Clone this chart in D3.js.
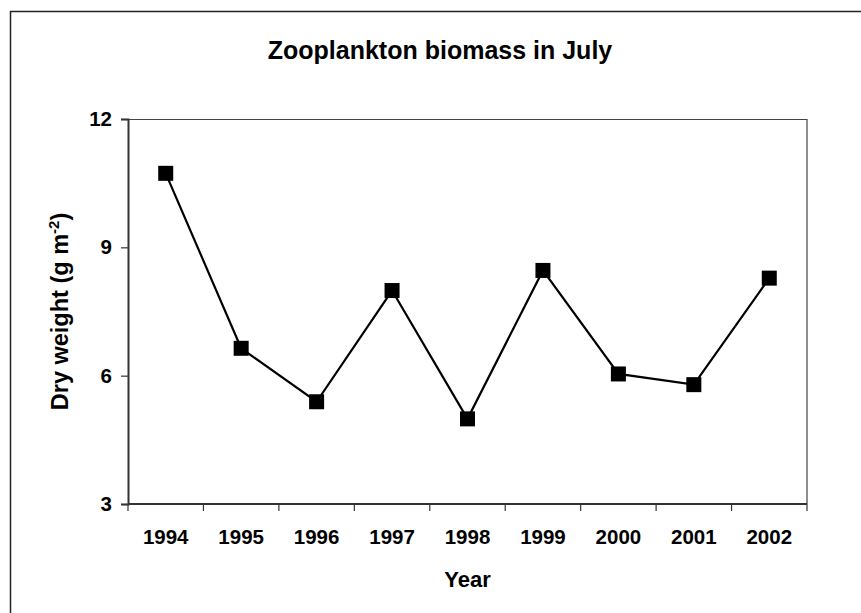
<!DOCTYPE html>
<html>
<head>
<meta charset="utf-8">
<script src="https://cdn.jsdelivr.net/npm/d3@7"></script>
<style>
  body { margin: 0; background: #fff; }
  text { font-family: Arial, "Liberation Sans", sans-serif; font-weight: bold; fill: #000; }
</style>
</head>
<body>
<div id="chart"></div>
<script>
// data
var years = ["1994", "1995", "1996", "1997", "1998", "1999", "2000", "2001", "2002"];
var dryWeight = [10.73, 6.64, 5.39, 7.99, 4.99, 8.46, 6.04, 5.79, 8.28];
var yTicks = [3, 6, 9, 12];

var W = 861, H = 613;
var margin = {top: 119, right: 54, bottom: 109, left: 128}
  , width = W - margin.left - margin.right
  , height = H - margin.top - margin.bottom;

var svg = d3.select("#chart").append("svg")
    .attr("width", W)
    .attr("height", H);

// outer chart border (right and bottom fall outside the window)
svg.append("rect")
    .attr("x", 10.5).attr("y", 11.5)
    .attr("width", 880).attr("height", 640)
    .attr("fill", "none")
    .attr("stroke", "#222")
    .attr("stroke-width", 1.5);

var g = svg.append("g")
    .attr("transform", "translate(" + margin.left + "," + margin.top + ")");

var x = d3.scaleBand()
    .domain(years)
    .range([0, width]);

var y = d3.scaleLinear()
    .domain([3, 12])
    .range([height, 0]);

// plot frame top and right
g.append("path")
    .attr("d", "M0,0.5H" + width + "V" + height)
    .attr("fill", "none")
    .attr("stroke", "#444")
    .attr("stroke-width", 1.2);

// x axis, ticks between categories
var xAxis = g.append("g")
    .attr("transform", "translate(0," + height + ")");
xAxis.append("path")
    .attr("d", "M0,0H" + width)
    .attr("stroke", "#333")
    .attr("stroke-width", 2);
xAxis.selectAll(".tk")
    .data(years.concat(["end"]))
    .enter().append("line")
    .attr("x1", function(d, i) { return i * x.bandwidth(); })
    .attr("x2", function(d, i) { return i * x.bandwidth(); })
    .attr("y1", 0).attr("y2", 7)
    .attr("stroke", "#333")
    .attr("stroke-width", 1.2);
xAxis.selectAll(".lbl")
    .data(years)
    .enter().append("text")
    .attr("x", function(d) { return x(d) + x.bandwidth() / 2; })
    .attr("y", 40)
    .attr("text-anchor", "middle")
    .style("font-size", "20.5px")
    .text(function(d) { return d; });

// y axis
var yAxis = g.append("g")
    .call(d3.axisLeft(y).tickValues(yTicks).tickSize(7).tickPadding(9));
yAxis.select(".domain").attr("stroke", "#333").attr("stroke-width", 2);
yAxis.selectAll(".tick line").attr("stroke", "#333").attr("stroke-width", 1.2);
yAxis.selectAll(".tick text")
    .style("font-size", "20.5px")
    .attr("font-family", null);

// line + markers
var line = d3.line()
    .x(function(d, i) { return x(years[i]) + x.bandwidth() / 2; })
    .y(function(d) { return y(d); });

g.append("path")
    .datum(dryWeight)
    .attr("d", line)
    .attr("fill", "none")
    .attr("stroke", "#000")
    .attr("stroke-width", 2.2);

var sz = 15;
g.selectAll(".dot")
    .data(dryWeight)
    .enter().append("rect")
    .attr("x", function(d, i) { return x(years[i]) + x.bandwidth() / 2 - sz / 2; })
    .attr("y", function(d) { return y(d) - sz / 2; })
    .attr("width", sz).attr("height", sz)
    .attr("fill", "#000");

// title and axis titles
svg.append("text")
    .attr("x", 440).attr("y", 59)
    .attr("text-anchor", "middle")
    .style("font-size", "25px")
    .text("Zooplankton biomass in July");

svg.append("text")
    .attr("x", margin.left + width / 2).attr("y", 587)
    .attr("text-anchor", "middle")
    .style("font-size", "22px")
    .text("Year");

var yt = svg.append("text")
    .attr("transform", "translate(68," + (margin.top + height / 2) + ") rotate(-90)")
    .attr("text-anchor", "middle")
    .style("font-size", "23.5px");
yt.append("tspan").text("Dry weight (g m");
yt.append("tspan").attr("dy", -9).style("font-size", "15px").text("-2");
yt.append("tspan").attr("dy", 9).text(")");
</script>
</body>
</html>
